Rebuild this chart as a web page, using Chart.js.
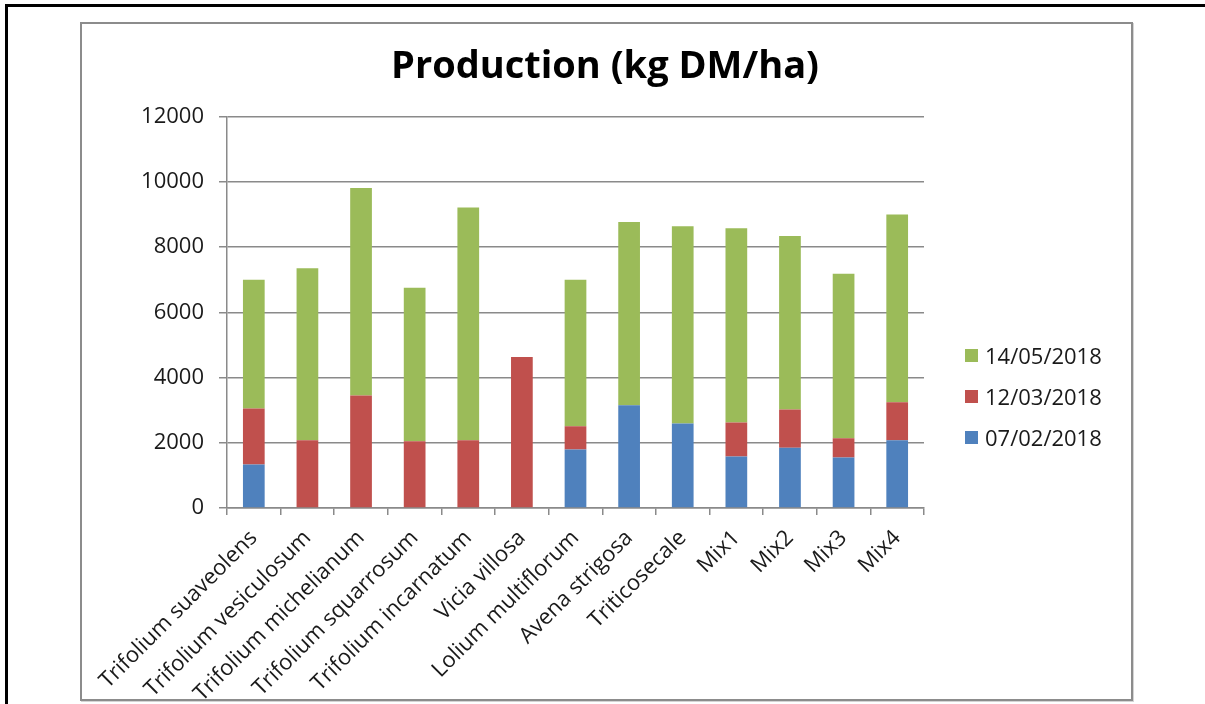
<!DOCTYPE html>
<html>
<head>
<meta charset="utf-8">
<script src="https://cdn.jsdelivr.net/npm/chart.js@4/dist/chart.umd.min.js"></script>
<style>
  html, body { margin: 0; padding: 0; background: #fff; }
  #page { position: relative; width: 1205px; height: 704px; overflow: hidden; }
  .frame-top { position: absolute; left: 5px; top: 4px; width: 1200px; height: 3px; background: #000; }
  .frame-left { position: absolute; left: 5px; top: 4px; width: 3px; height: 700px; background: #000; }
  .chart-box { position: absolute; left: 80px; top: 22px; width: 1053px; height: 679px;
               box-sizing: border-box; border: 2px solid #8c8c8c; box-shadow: 1px 1px 0 #d4d4d4; }
  canvas { position: absolute; left: 0; top: 0; }
  #legend { position: absolute; left: 965px; top: 344px; font-family: "Open Sans", sans-serif;
            font-size: 22px; line-height: 22px; color: #1a1a1a; }
  #legend .item { position: absolute; left: 0; white-space: nowrap; height: 22px; }
  #legend .swatch { position: absolute; left: 0; top: 5px; width: 13px; height: 13px; }
  #legend .text { position: absolute; left: 20px; top: 0; }
</style>
</head>
<body>
<div id="page">
  <div class="frame-top"></div>
  <div class="frame-left"></div>
  <div class="chart-box"></div>
  <canvas id="chart" width="1205" height="704"></canvas>
  <div id="legend"></div>
</div>
<script>
// Forage species and mixtures
const categories = [
  'Trifolium suaveolens', 'Trifolium vesiculosum', 'Trifolium michelianum',
  'Trifolium squarrosum', 'Trifolium incarnatum', 'Vicia villosa',
  'Lolium multiflorum', 'Avena strigosa', 'Triticosecale',
  'Mix1', 'Mix2', 'Mix3', 'Mix4'
];

// Dry matter harvested at each cut (kg DM/ha), stacked per category
const cutFeb = [1330, 0, 0, 0, 0, 0, 1790, 3150, 2590, 1580, 1850, 1550, 2080];
const cutMar = [1720, 2080, 3450, 2050, 2080, 4630, 720, 0, 0, 1040, 1170, 590, 1160];
const cutMay = [3950, 5270, 6360, 4700, 7130, 0, 4490, 5620, 6050, 5960, 5320, 5040, 5760];

const seriesLabels = ['07/02/2018', '12/03/2018', '14/05/2018'];
const seriesColors = ['#4F81BD', '#C0504D', '#9BBB59'];

// Value axis
const yMin = 0;
const yMax = 12000;
const yStep = 2000;

const FONT = '"Open Sans", sans-serif';
const TEXT = '#1a1a1a';
const GRID = '#8a8a8a';

// Builds the legend as HTML from the chart's own legend items, last series on top
const htmlLegend = {
  id: 'htmlLegend',
  afterUpdate(chart) {
    const box = document.getElementById('legend');
    box.innerHTML = '';
    const items = Chart.defaults.plugins.legend.labels.generateLabels(chart).reverse();
    items.forEach((it, i) => {
      const row = document.createElement('div');
      row.className = 'item';
      row.style.top = (i * 41) + 'px';
      const sw = document.createElement('span');
      sw.className = 'swatch';
      sw.style.background = it.fillStyle;
      const tx = document.createElement('span');
      tx.className = 'text';
      tx.textContent = it.text;
      row.appendChild(sw);
      row.appendChild(tx);
      box.appendChild(row);
    });
  }
};

const datasets = [cutFeb, cutMar, cutMay].map((values, i) => ({
  label: seriesLabels[i],
  data: values,
  backgroundColor: seriesColors[i],
  borderWidth: 0,
  categoryPercentage: 1.0,
  barPercentage: 0.405
}));

new Chart(document.getElementById('chart'), {
  type: 'bar',
  data: { labels: categories, datasets },
  plugins: [htmlLegend],
  options: {
    responsive: false,
    animation: false,
    devicePixelRatio: 1,
    layout: { padding: { left: 5, right: 0, top: 24, bottom: 0 } },
    plugins: {
      legend: { display: false },
      tooltip: { enabled: false },
      title: {
        display: true,
        text: 'Production (kg DM/ha)',
        color: '#000',
        font: { family: FONT, size: 38, weight: 'bold', lineHeight: 1.2 },
        padding: { top: 20, bottom: 27 }
      }
    },
    scales: {
      x: {
        stacked: true,
        grid: { display: true, drawOnChartArea: false, drawTicks: true, tickLength: 7, color: GRID, lineWidth: 1.5, offset: true },
        border: { display: true, color: GRID, width: 1.5 },
        ticks: {
          autoSkip: false, minRotation: 45, maxRotation: 45, padding: 10,
          color: TEXT, font: { family: FONT, size: 22 }
        },
        afterFit: s => { s.height = 196; }
      },
      y: {
        stacked: true,
        min: yMin, max: yMax,
        grid: { color: GRID, lineWidth: 1.5, drawTicks: true, tickLength: 8 },
        border: { display: true, color: GRID, width: 1.5 },
        ticks: {
          stepSize: yStep, padding: 15, color: TEXT, font: { family: FONT, size: 22 },
          callback: v => String(v)
        },
        afterFit: s => { s.width = 222; }
      },
      yRight: {
        type: 'linear',
        position: 'right',
        display: true,
        grid: { display: false, drawTicks: false },
        border: { display: false },
        ticks: { display: false },
        afterFit: s => { s.width = 281; }
      }
    }
  }
});
</script>
</body>
</html>
